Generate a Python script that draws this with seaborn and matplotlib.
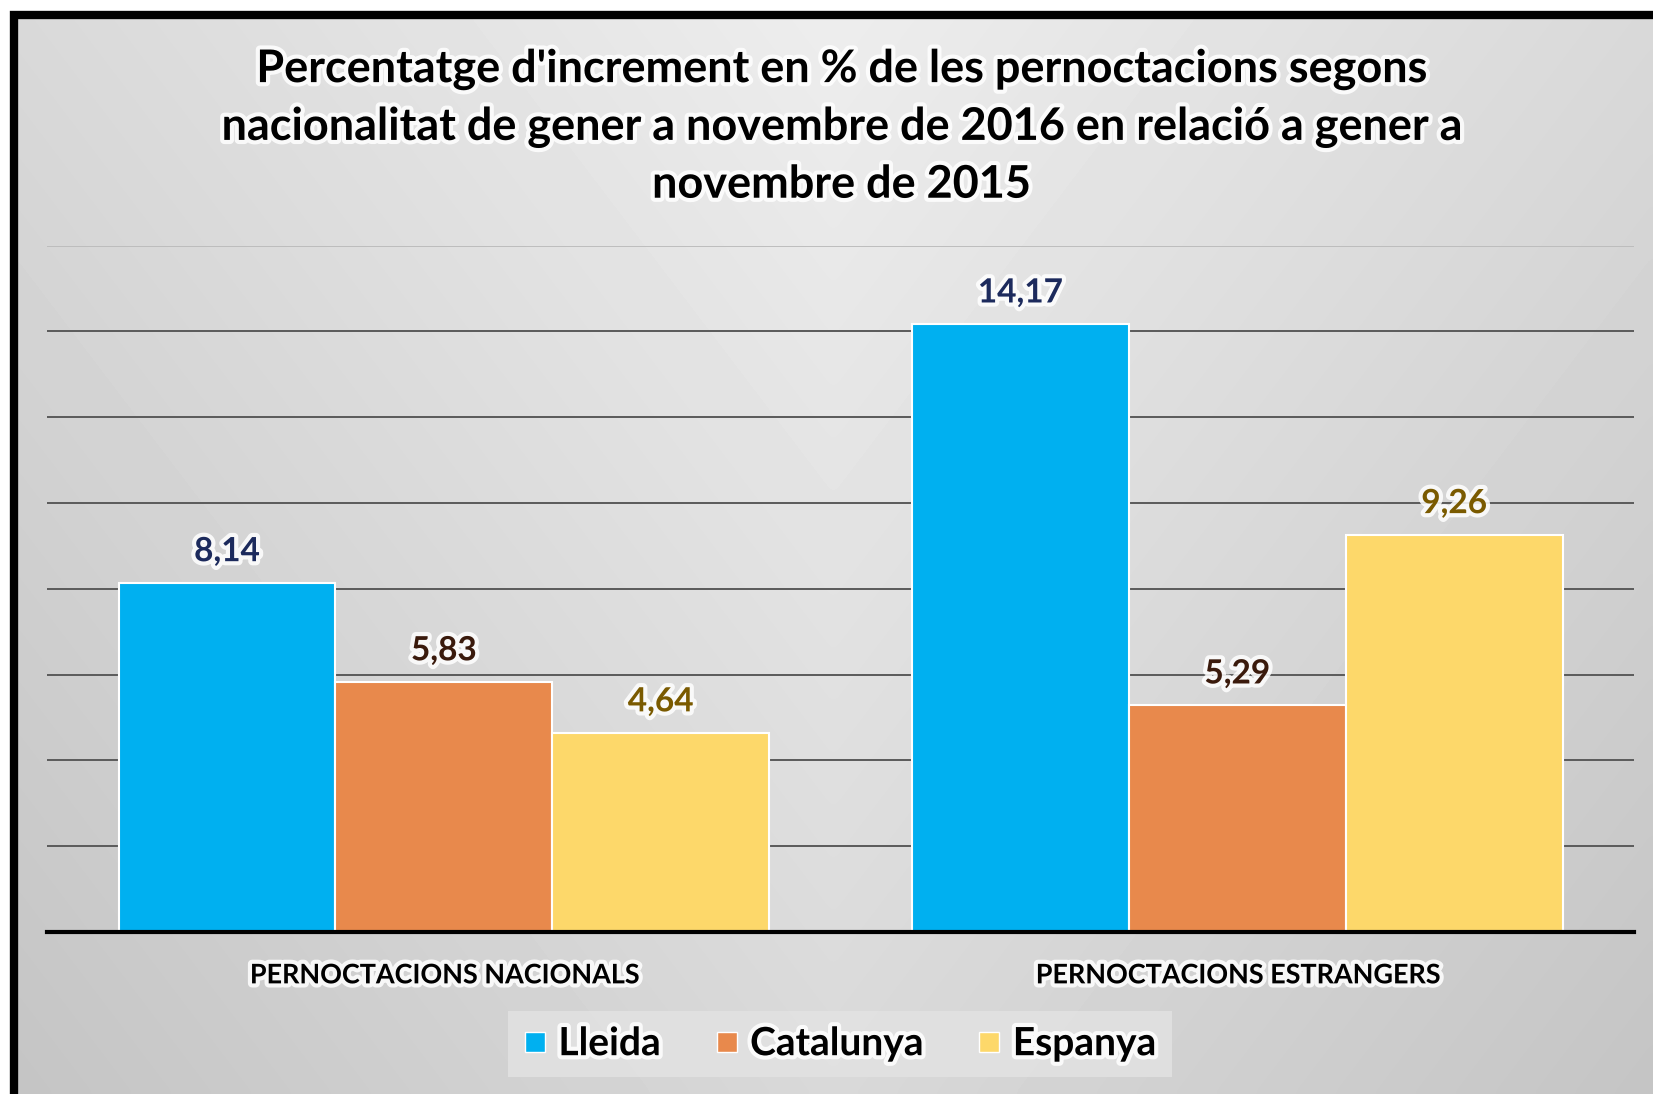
import numpy as np
import pandas as pd
import matplotlib.pyplot as plt
import matplotlib.patheffects as pe
from matplotlib.patches import Rectangle
from matplotlib.lines import Line2D
import seaborn as sns

# dades
categories = ['PERNOCTACIONS NACIONALS', 'PERNOCTACIONS ESTRANGERS']
territoris = ['Lleida', 'Catalunya', 'Espanya']
lleida = [8.14, 14.17]
catalunya = [5.83, 5.29]
espanya = [4.64, 9.26]

colors = ['#00b0f0', '#e8894c', '#fdd86a']
label_colors = ['#1c2a5c', '#3a1a0c', '#7a5a00']

df = pd.DataFrame({
    'categoria': categories * 3,
    'territori': [t for t in territoris for _ in categories],
    'valor': lleida + catalunya + espanya,
})

sns.set_style('white')
plt.rcParams['font.family'] = ['Lato', 'DejaVu Sans']
plt.rcParams['text.color'] = 'black'
plt.rcParams['xtick.color'] = 'black'

fig = plt.figure(figsize=(16.53, 10.94), dpi=100)
fig.patch.set_facecolor('white')

# fons amb degradat
bg = fig.add_axes([0.0085, 0.0, 0.9915, 0.986], zorder=0)
yy, xx = np.mgrid[0:1:200j, 0:1:300j]
grad = 0.93 - 0.10 * np.abs(xx - 0.5) * 1.6 - 0.08 * yy
bg.imshow(grad, cmap='gray', vmin=0, vmax=1, aspect='auto', extent=[0, 1, 0, 1],
          origin='upper', interpolation='bicubic')
bg.set_axis_off()
fig.patches.append(Rectangle((0.0085, -0.05), 1.2, 1.036, transform=fig.transFigure,
                             fill=False, edgecolor='black', linewidth=6, zorder=1))

ax = fig.add_axes([0.0285, 0.148, 0.960, 0.6275], zorder=2)
ax.patch.set_alpha(0)
sns.barplot(data=df, x='categoria', y='valor', hue='territori', palette=colors,
            saturation=1, width=0.82, edgecolor='white', linewidth=1.5, ax=ax,
            legend=False)

ax.set_ylim(0, 16)
ax.set_xlim(-0.5, 1.5)
ax.set_yticks(np.arange(0, 17, 2))
ax.yaxis.grid(True, color='#5a5a5a', linewidth=1.4)
ax.set_axisbelow(True)
ax.get_ygridlines()[-1].set_color('#bdbdbd')
ax.tick_params(axis='y', left=False, labelleft=False)
ax.tick_params(axis='x', bottom=False, pad=19, labelcolor='black')
for s in ['left', 'right', 'top']:
    ax.spines[s].set_visible(False)
ax.spines['bottom'].set_color('black')
ax.spines['bottom'].set_linewidth(3)
ax.set_xlabel('')
ax.set_ylabel('')
glow = [pe.withStroke(linewidth=6, foreground='white', alpha=0.85)]
for lab in ax.get_xticklabels():
    lab.set_fontsize(19.4)
    lab.set_fontweight('bold')
    lab.set_path_effects(glow)

for cont, col in zip(ax.containers, label_colors):
    labels = [f'{v:.2f}'.replace('.', ',') for v in cont.datavalues]
    ax.bar_label(cont, labels=labels, padding=12, fontsize=24, fontweight='bold',
                 color=col, path_effects=glow)

fig.text(0.509, 0.884,
         "Percentatge d'increment en % de les pernoctacions segons\n"
         "nacionalitat de gener a novembre de 2016 en relació a gener a\n"
         "novembre de 2015",
         ha='center', va='center', fontsize=32.4, fontweight='bold',
         color='black', linespacing=1.45, path_effects=glow)

handles = [Line2D([], [], marker='s', linestyle='none', markersize=15,
                  markerfacecolor=c, markeredgecolor='white', markeredgewidth=1)
           for c in colors]
leg = fig.legend(handles, territoris, loc='center', bbox_to_anchor=(0.508, 0.046),
                 ncol=3, frameon=True, fontsize=28, handlelength=0.6,
                 handletextpad=0.3, columnspacing=1.4, borderpad=0.4,
                 borderaxespad=0, fancybox=False)
leg.get_frame().set_facecolor('#e3e3e3')
leg.get_frame().set_edgecolor('none')
leg.set_zorder(3)
for t in leg.get_texts():
    t.set_fontweight('bold')
    t.set_color('black')
    t.set_path_effects(glow)

fig.savefig('out.png', dpi=100, facecolor=fig.get_facecolor())
